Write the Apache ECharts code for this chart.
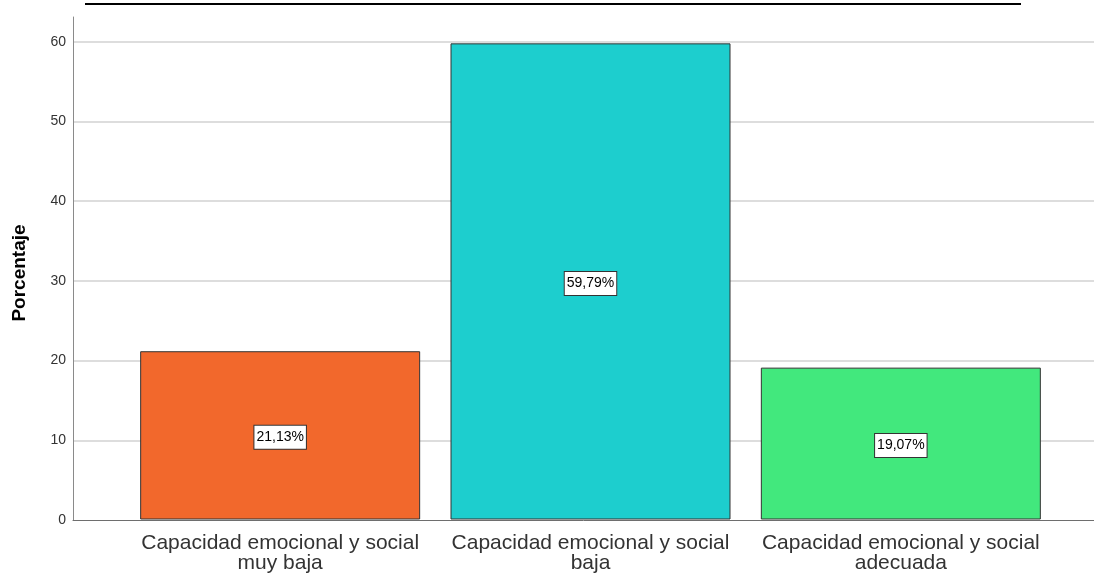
<!DOCTYPE html>
<html>
<head>
<meta charset="utf-8">
<script src="https://cdn.jsdelivr.net/npm/echarts@6/dist/echarts.min.js"></script>
<style>
  html, body { margin: 0; padding: 0; background: #ffffff; }
  #chart { width: 1094px; height: 574px; }
</style>
</head>
<body>
<div id="chart"></div>
<script>
// Categories and percentages
const categories = [
  'Capacidad emocional y social\nmuy baja',
  'Capacidad emocional y social\nbaja',
  'Capacidad emocional y social\nadecuada'
];
const percentages = [21.13, 59.79, 19.07];
const barColors = ['#f2682c', '#1dcece', '#42e87d'];
const yTicks = [0, 10, 20, 30, 40, 50, 60];
const yTitle = 'Porcentaje';

const FONT = 'Liberation Sans, Arial, sans-serif';
const Y_MAX = 63.1;

const chart = echarts.init(document.getElementById('chart'));

const fmt = v => v.toFixed(2).replace('.', ',') + '%';

chart.setOption({
  animation: false,
  backgroundColor: '#ffffff',
  graphic: [
    {
      type: 'line',
      shape: { x1: 85, y1: 4, x2: 1021, y2: 4 },
      style: { stroke: '#000000', lineWidth: 2 }
    },
    {
      type: 'text', x: 20, y: 273, rotation: Math.PI / 2,
      style: {
        text: yTitle, fill: '#000000', font: 'bold 19px ' + FONT,
        textAlign: 'center', textVerticalAlign: 'middle'
      }
    }
  ],
  grid: [
    { left: 73, right: 0, top: 17, bottom: 54 },
    { left: 125, right: 38, top: 17, bottom: 54 }
  ],
  xAxis: [
    {
      gridIndex: 0, type: 'category', data: [''],
      axisLine: { lineStyle: { color: '#6e6e6e', width: 1 } },
      axisTick: { show: false }, axisLabel: { show: false }
    },
    {
      gridIndex: 1, type: 'category', data: categories,
      axisLine: { show: false }, axisTick: { show: false },
      axisLabel: {
        color: '#333333', fontFamily: FONT,
        fontSize: 21, lineHeight: 20, margin: 14, interval: 0
      }
    }
  ],
  yAxis: [
    {
      gridIndex: 0, type: 'value', min: 0, max: Y_MAX, interval: 10,
      axisLine: { show: true, lineStyle: { color: '#8a8a8a', width: 1 } },
      axisTick: { show: false },
      axisLabel: {
        color: '#333333', fontSize: 14, margin: 7, fontFamily: FONT,
        showMaxLabel: false,
        formatter: v => (yTicks.indexOf(v) >= 0 ? String(v) : '')
      },
      splitLine: {
        show: true, showMinLine: false, showMaxLine: false,
        lineStyle: { color: '#d2d2d2', width: 1.5 }
      }
    },
    {
      gridIndex: 1, type: 'value', min: 0, max: Y_MAX, interval: 10, show: false,
      splitLine: { show: false }
    }
  ],
  series: [{
    type: 'bar',
    xAxisIndex: 1, yAxisIndex: 1,
    barWidth: 280,
    data: percentages.map((v, i) => ({
      value: v,
      itemStyle: { color: barColors[i] }
    })),
    itemStyle: { borderColor: '#333333', borderWidth: 1 },
    label: {
      show: true, position: 'inside', offset: [0, 2],
      formatter: p => fmt(p.value),
      color: '#000000', fontSize: 14, lineHeight: 14, fontFamily: FONT,
      backgroundColor: '#ffffff', borderColor: '#333333', borderWidth: 1,
      padding: [5, 2, 4, 2]
    }
  }]
});
</script>
</body>
</html>
